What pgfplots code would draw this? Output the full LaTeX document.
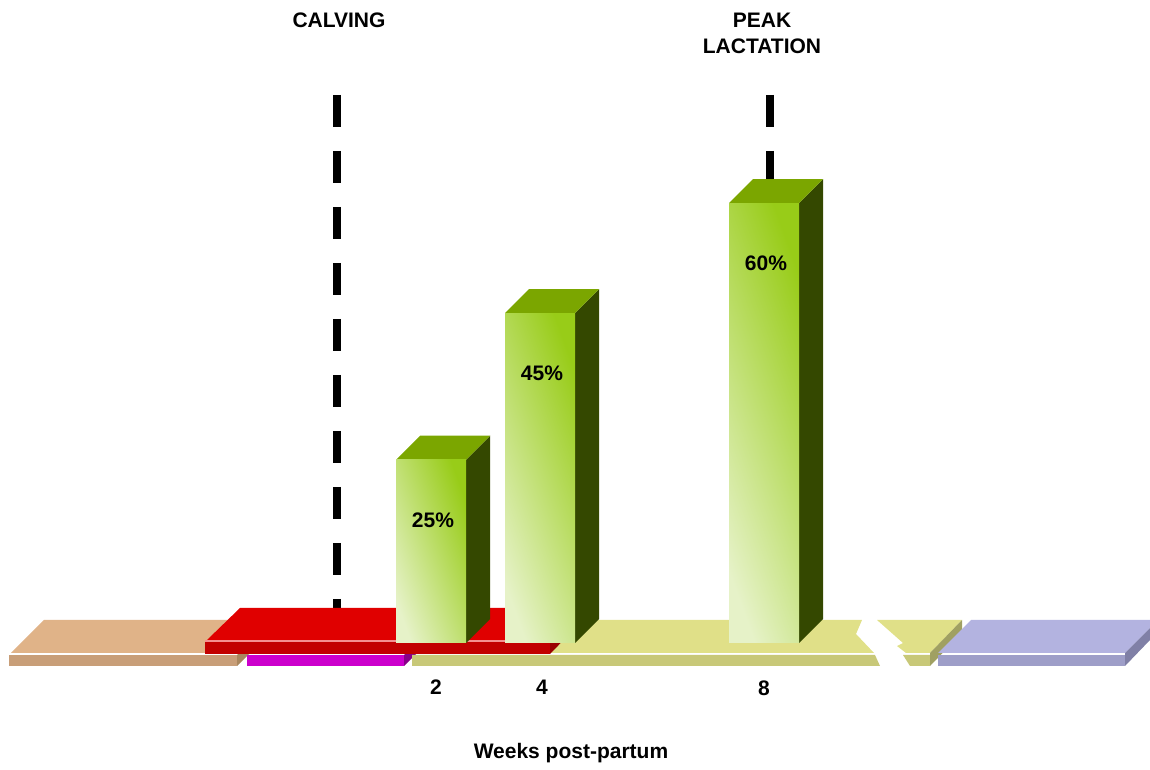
\documentclass[border=0pt]{standalone}
\usepackage{pgfplots}
\pgfplotsset{compat=1.18}
\usepackage{pgfplotstable}
\usepackage{fontspec}
\setmainfont{Liberation Sans}

% floor slabs
\definecolor{tantop}{HTML}{E0B388}
\definecolor{tanfront}{HTML}{C89E78}
\definecolor{tanside}{HTML}{A8865E}
\definecolor{magfront}{HTML}{CC00CC}
\definecolor{magside}{HTML}{880088}
\definecolor{redtop}{HTML}{E00000}
\definecolor{redlite}{HTML}{F49090}
\definecolor{redfront}{HTML}{C20000}
\definecolor{redside}{HTML}{9A0000}
\definecolor{yeltop}{HTML}{E0E088}
\definecolor{yelfront}{HTML}{C8C878}
\definecolor{yelside}{HTML}{A0A062}
\definecolor{lavtop}{HTML}{B3B3E0}
\definecolor{lavfront}{HTML}{9E9EC8}
\definecolor{lavside}{HTML}{8080A6}
% bars
\definecolor{bartop}{HTML}{7BA600}
\definecolor{barside}{HTML}{344800}
\definecolor{barlight}{HTML}{E6F2C8}
\definecolor{bargreen}{HTML}{98CC18}

% faces of a box bar: x = centre + dx, y = fy*value + dy
\pgfplotstableread{
dx fy dy
-35 0 0
35 0 0
35 1 0
-35 1 0
}\frontface
\pgfplotstableread{
dx fy dy
-35 1 0
35 1 0
59 1 3.274
-11 1 3.274
}\topface
\pgfplotstableread{
dx fy dy
35 0 0
59 0 3.274
59 1 3.274
35 1 0
}\sideface

\newcommand\boxbar[2]{%
  \addplot[draw=none, fill=barside]
    table[x expr=#1+\thisrow{dx}, y expr=\thisrow{fy}*#2+\thisrow{dy}] {\sideface} -- cycle;
  \addplot[draw=none, fill=bartop]
    table[x expr=#1+\thisrow{dx}, y expr=\thisrow{fy}*#2+\thisrow{dy}] {\topface} -- cycle;
  \addplot[draw=none, left color=barlight, right color=bargreen, shading angle=110]
    table[x expr=#1+\thisrow{dx}, y expr=\thisrow{fy}*#2+\thisrow{dy}] {\frontface} -- cycle;
  \node[font=\fontsize{10.5}{13}\selectfont\bfseries] at (axis cs:#1+2,#2-8.2) {#2\%};
}

% floor pieces are given in screen units (y down from the top edge)
\pgfplotsset{
  pix/.style={y filter/.expression={(643-y)/7.33}},
  slab/.style={pix, draw=none},
}

\begin{document}
\begin{tikzpicture}
\begin{axis}[
  scale only axis, width=575pt, height=382pt,
  xmin=0, xmax=1150, ymin=-16.507, ymax=87.722,
  hide axis, clip=false,
]
\path (rel axis cs:0,0) rectangle (rel axis cs:1,1);

% tan
\addplot[slab, fill=tantop] coordinates {(11,653) (44,620) (270,620) (237,653)} -- cycle;
\addplot[slab, fill=tanfront] coordinates {(9,655) (237,655) (237,666) (9,666)} -- cycle;
\addplot[slab, fill=tanside] coordinates {(237,655) (270,622) (270,633) (237,666)} -- cycle;
% magenta
\addplot[slab, fill=magfront] coordinates {(247,655) (404,655) (404,666) (247,666)} -- cycle;
\addplot[slab, fill=magside] coordinates {(404,655) (437,622) (437,633) (404,666)} -- cycle;
% yellow, broken near the end
\addplot[slab, fill=yeltop] coordinates {(412,653) (445,620) (862,620) (856,634) (874,653)} -- cycle;
\addplot[slab, fill=yelfront] coordinates {(412,655) (875,655) (880,666) (412,666)} -- cycle;
\addplot[slab, fill=yeltop] coordinates {(877,620) (962,620) (930,653) (906,653) (897,646) (903,643)} -- cycle;
\addplot[slab, fill=yelfront] coordinates {(903,655) (930,655) (930,666) (910,666)} -- cycle;
\addplot[slab, fill=yelside] coordinates {(930,653) (962,620) (962,633) (930,666)} -- cycle;
% lavender
\addplot[slab, fill=lavtop] coordinates {(938,653) (971,620) (1150,620) (1150,628) (1125,653)} -- cycle;
\addplot[slab, fill=lavfront] coordinates {(938,655) (1125,655) (1125,666) (938,666)} -- cycle;
\addplot[slab, fill=lavside] coordinates {(1125,653) (1150,628) (1150,640) (1125,666)} -- cycle;

% calving and peak lactation markers
\addplot[pix, draw=black, line width=4pt, dash pattern=on 16pt off 12pt]
  coordinates {(337,95) (337,630)};
\addplot[pix, draw=black, line width=4pt, dash pattern=on 16pt off 12pt]
  coordinates {(770,95) (770,300)};

% red
\addplot[slab, fill=redside] coordinates {(550,640) (583,608) (583,620) (550,654)} -- cycle;
\addplot[slab, fill=redtop] coordinates {(207,640) (240,608) (583,608) (550,640)} -- cycle;
\addplot[slab, fill=redlite] coordinates {(205,640) (550,640) (550,642) (205,642)} -- cycle;
\addplot[slab, fill=redfront] coordinates {(205,642) (550,642) (550,654) (205,654)} -- cycle;

% share of cows, weeks 2, 4 and 8
\boxbar{431}{25}
\boxbar{540}{45}
\boxbar{764}{60}

\begin{scope}[font=\fontsize{10.5}{13}\selectfont\bfseries]
\node at (axis cs:339,84.99) {CALVING};
\node[align=center] at (axis cs:762,83.22) {PEAK\\LACTATION};
\node at (axis cs:436,-6.0) {2};
\node at (axis cs:542,-6.0) {4};
\node at (axis cs:764,-6.2) {8};
\node at (axis cs:571,-15.01) {Weeks post-partum};
\end{scope}
\end{axis}
\end{tikzpicture}
\end{document}
